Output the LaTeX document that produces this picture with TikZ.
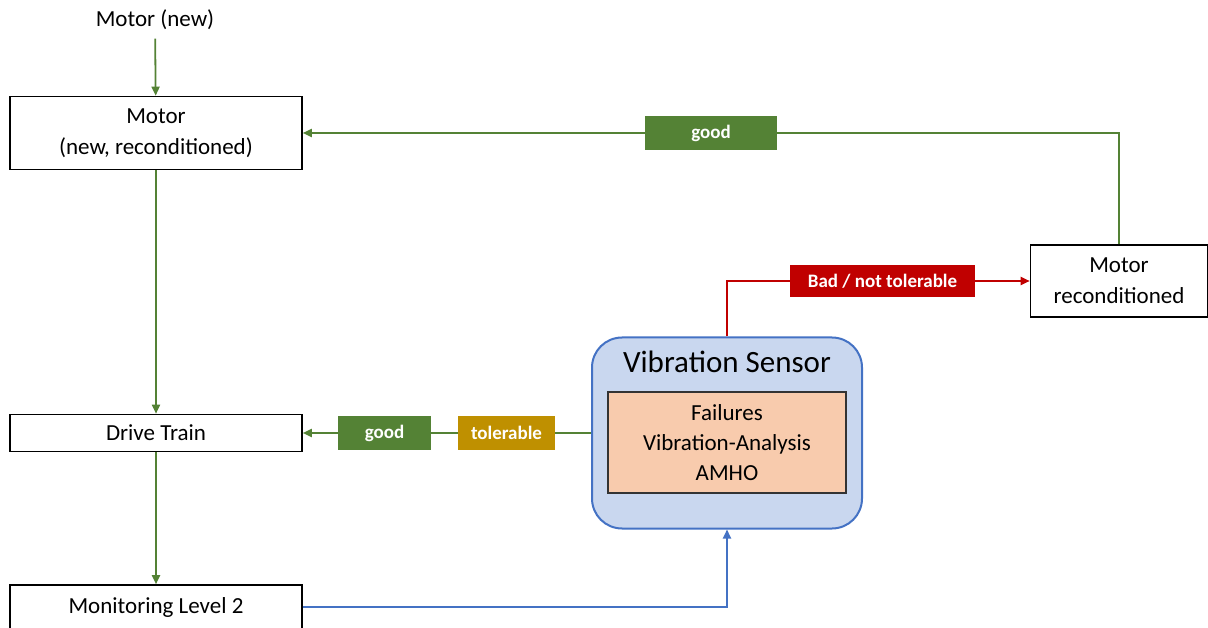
\documentclass[tikz,border=0pt]{standalone}
\usepackage{fontspec}
\setmainfont{Carlito}
\usepackage{xcolor}
\usetikzlibrary{arrows.meta, positioning, calc}

\definecolor{okgreen}{HTML}{548235}
\definecolor{badred}{HTML}{C00000}
\definecolor{tolgold}{HTML}{BF9000}
\definecolor{linkblue}{HTML}{4472C4}
\definecolor{sensorfill}{HTML}{C9D7EF}
\definecolor{corefill}{HTML}{F8CBAD}

\begin{document}
\begin{tikzpicture}[x=1pt, y=-1pt, >={Triangle[length=9pt,width=8pt]},
    block/.style={draw, line width=1.6pt, fill=white, minimum width=292pt, align=center,
        inner sep=0pt, font=\fontsize{23}{31}\selectfont},
    tag/.style={fill=#1, text=white, inner sep=0pt, minimum height=34pt,
        font=\fontsize{19}{20}\selectfont\bfseries},
    flow/.style={draw=okgreen, line width=1.8pt, ->}]

    \useasboundingbox (0,0) rectangle (1208,628);

    % Blocchi a sinistra
    \node[font=\fontsize{23}{28}\selectfont] (newm) at (155,20) {Motor (new)};
    \node[block, minimum height=73pt] (motor) at (156,133) {Motor\\(new, reconditioned)};
    \node[block, minimum height=37pt] (drive) at (156,433) {Drive Train};
    \node[block, minimum height=44pt] (mon) at (156,607) {Monitoring Level 2};
    \node[block, minimum width=177pt, minimum height=72pt] (recon) at (1119,281) {Motor\\reconditioned};

    % Sensore
    \node[draw=linkblue, line width=2pt, fill=sensorfill, rounded corners=30pt,
          minimum width=270pt, minimum height=191pt] (sensor) at (727,433) {};
    \node[font=\fontsize{31}{36}\selectfont] (title) at (727,362) {Vibration Sensor};
    \node[draw=black!80, line width=1.6pt, fill=corefill, minimum width=238pt, minimum height=101pt,
          align=center, inner sep=0pt, font=\fontsize{23}{30}\selectfont] (core) at (727,442.5)
          {Failures\\Vibration-Analysis\\AMHO};

    % Etichette
    \node[tag=okgreen, minimum width=132pt] (goodtop) at (711,133) {good};
    \node[tag=badred, minimum width=185pt, minimum height=32pt] (bad) at (882.5,281) {Bad / not tolerable};
    \node[tag=tolgold, minimum width=97pt] (tol) at (506.5,433) {tolerable};
    \node[tag=okgreen, minimum width=93pt] (goodlow) at (384.5,433) {good};

    % Collegamenti
    \draw[flow, shorten <=5pt] (newm) -- (motor);
    \draw[flow] (motor) -- (drive);
    \draw[flow] (drive) -- (mon);
    \draw[flow] (recon.north) |- (goodtop) -- (motor.east);
    \draw[flow] (sensor.west) -- (tol) -- (goodlow) -- (drive.east);
    \draw[->, draw=badred, line width=1.8pt] (sensor.north) |- (bad) -- (recon.west);
    \draw[->, draw=linkblue, line width=1.8pt] (mon.east) -| (sensor.south);
\end{tikzpicture}
\end{document}
